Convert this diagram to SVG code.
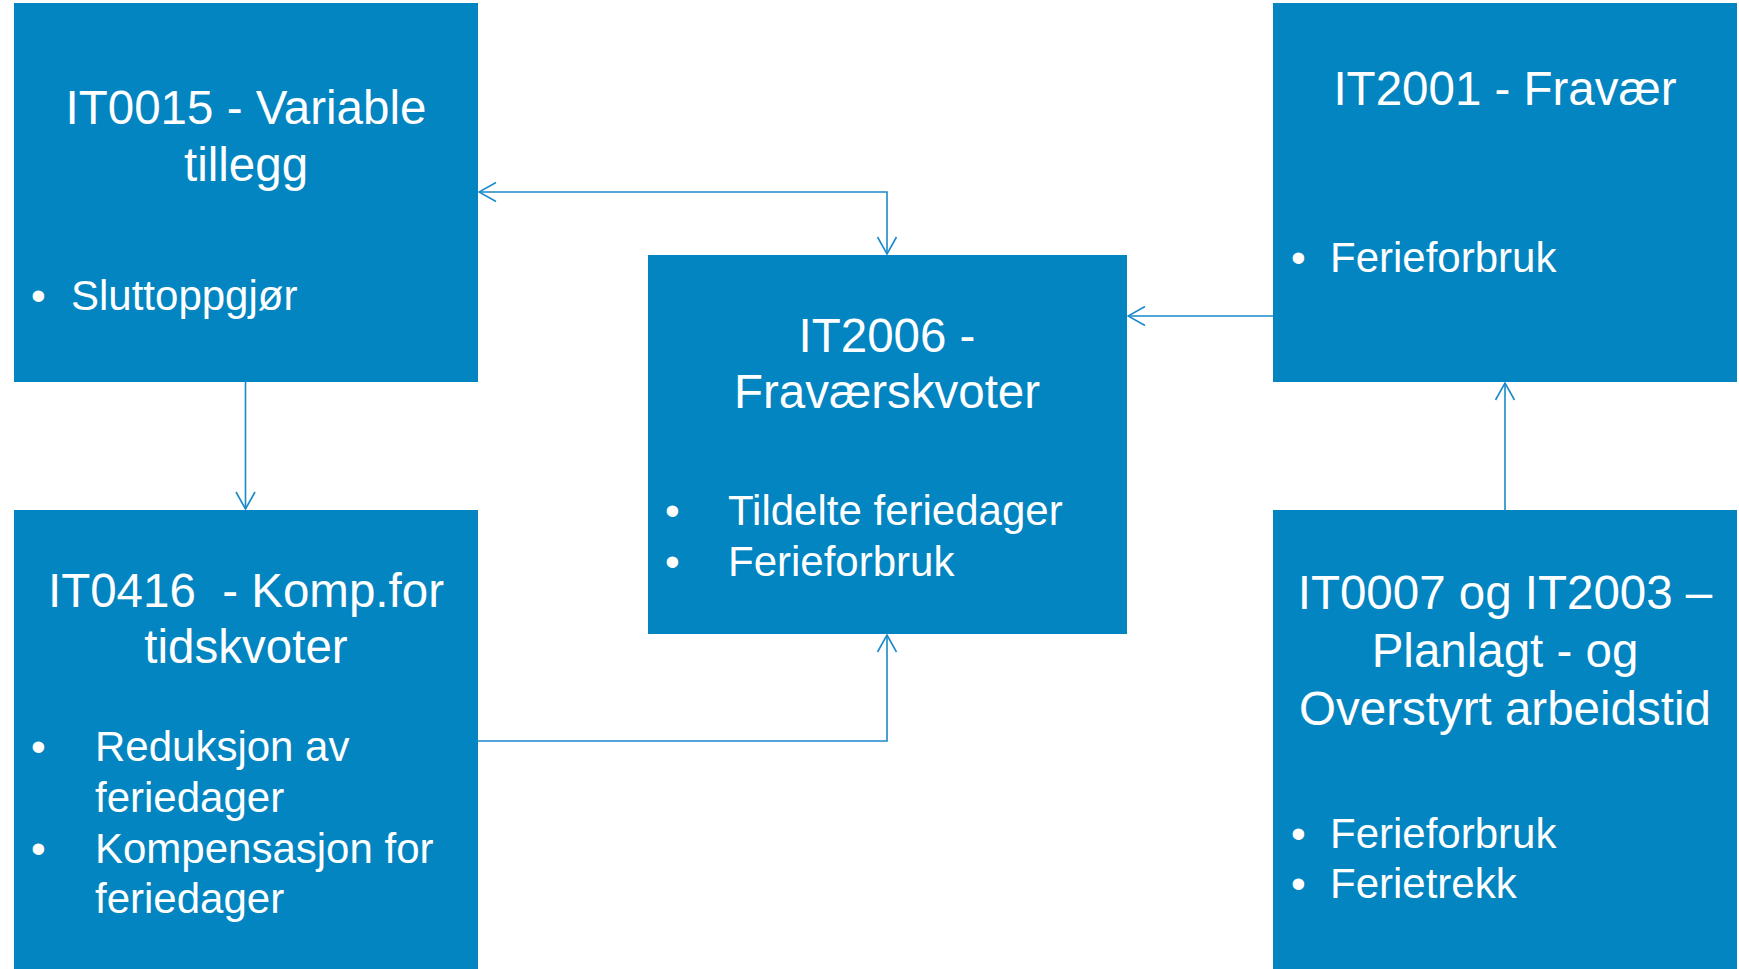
<svg xmlns="http://www.w3.org/2000/svg" width="1739" height="969" viewBox="0 0 1739 969">
<style>
.box{fill:#0385C1;}
.t{font-family:"Liberation Sans",Arial,sans-serif;fill:#FFFFFF;font-size:47.5px;text-anchor:middle;white-space:pre;}
.b{font-family:"Liberation Sans",Arial,sans-serif;fill:#FFFFFF;font-size:42px;}
.c{fill:none;stroke:#1A8ACB;stroke-width:1.6;}
</style>
<defs>
<marker id="ah" viewBox="0 0 20 22" refX="19" refY="11" markerWidth="20" markerHeight="22" markerUnits="userSpaceOnUse" orient="auto-start-reverse">
<path d="M2 1.5 L19 11 L2 20.5" fill="none" stroke="#1A8ACB" stroke-width="1.6"/>
</marker>
</defs>
<rect width="1739" height="969" fill="#FFFFFF"/>
<g id="connectors">
<path class="c" d="M479 192 H887 V254" marker-start="url(#ah)" marker-end="url(#ah)"/>
<path class="c" d="M245.5 382 V509" marker-end="url(#ah)"/>
<path class="c" d="M478 741 H887 V635" marker-end="url(#ah)"/>
<path class="c" d="M1273 316 H1128" marker-end="url(#ah)"/>
<path class="c" d="M1505 510 V383" marker-end="url(#ah)"/>
</g>
<g id="it0015">
<rect class="box" x="14" y="3" width="464" height="379"/>
<text class="t" x="246" y="124">IT0015 - Variable</text>
<text class="t" x="246" y="181">tillegg</text>
<text class="b" x="31" y="310">•</text>
<text class="b" x="71" y="310">Sluttoppgjør</text>
</g>
<g id="it0416">
<rect class="box" x="14" y="510" width="464" height="459"/>
<text class="t" x="246" y="607">IT0416  - Komp.for</text>
<text class="t" x="246" y="663">tidskvoter</text>
<text class="b" x="31" y="761">•</text>
<text class="b" x="95" y="761">Reduksjon av</text>
<text class="b" x="95" y="812">feriedager</text>
<text class="b" x="31" y="863">•</text>
<text class="b" x="95" y="863">Kompensasjon for</text>
<text class="b" x="95" y="913">feriedager</text>
</g>
<g id="it2006">
<rect class="box" x="648" y="255" width="479" height="379"/>
<text class="t" x="887" y="352">IT2006 -</text>
<text class="t" x="887" y="408">Fraværskvoter</text>
<text class="b" x="665" y="525">•</text>
<text class="b" x="728" y="525">Tildelte feriedager</text>
<text class="b" x="665" y="576">•</text>
<text class="b" x="728" y="576">Ferieforbruk</text>
</g>
<g id="it2001">
<rect class="box" x="1273" y="3" width="464" height="379"/>
<text class="t" x="1505" y="105">IT2001 - Fravær</text>
<text class="b" x="1291" y="272">•</text>
<text class="b" x="1330" y="272">Ferieforbruk</text>
</g>
<g id="it0007">
<rect class="box" x="1273" y="510" width="464" height="459"/>
<text class="t" x="1505" y="609">IT0007 og IT2003 –</text>
<text class="t" x="1505" y="667">Planlagt - og</text>
<text class="t" x="1505" y="725">Overstyrt arbeidstid</text>
<text class="b" x="1291" y="848">•</text>
<text class="b" x="1330" y="848">Ferieforbruk</text>
<text class="b" x="1291" y="898">•</text>
<text class="b" x="1330" y="898">Ferietrekk</text>
</g>
</svg>
